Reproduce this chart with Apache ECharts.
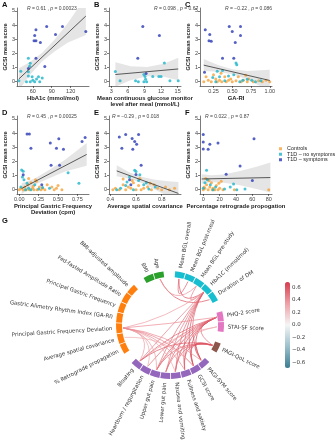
<!DOCTYPE html>
<html>
<head>
<meta charset="utf-8">
<script src="https://cdn.jsdelivr.net/npm/echarts@6/dist/echarts.min.js"></script>
<style>
  html, body { margin: 0; padding: 0; background: #fff; }
  #chart { width: 336px; height: 440px; }
</style>
</head>
<body>
<div id="chart"></div>
<script>
// ---------- scatter panels A-F (GCSI mean score vs GA / glycaemic metrics) ----------
const yTicks = [0, 1, 2, 3, 4, 5];

// A: HbA1c
const aXTicks = [60, 90, 120];
const aCtl = [];
const aNoSym = [[53, 1.65], [56, 1.3], [55, 1.1], [53, 0.7], [41, 0.74], [53, 0.4], [59, 0.35], [69, 0.35], [75, 0.26], [60, 0.1], [50, 0], [56, 0], [63, 0], [71, 0], [38, 0.07], [66, 0.2]];
const aSym = [[82, 3.89], [107, 3.89], [96, 3.33], [144, 3.54], [65, 3.66], [63, 3.26], [62, 2.89], [65, 2.89], [72, 2.77], [65, 1.65], [79, 1.07], [53, 0.93]];
const aFit = [[38, 0.2], [144, 4.63]];
const aBand = [[38, -0.6, 0.95], [55, 0.45, 1.37], [75, 1.45, 2.05], [95, 2.15, 3.0], [115, 2.75, 4.1], [144, 3.3, 6.0]];

// B: mean CGM level after meal
const bXTicks = [3, 6, 9, 12, 15];
const bCtl = [];
const bNoSym = [[3.75, 0.72], [4.6, 0.07], [7.4, 0.07], [7.9, 0], [8.9, 0.51], [9.1, 0.37], [9.2, 0.18], [8.9, 0], [9.4, 0], [10.5, 0.37], [11.6, 0.37], [12, 0.37], [12.6, 1.33], [13.6, 0.07], [15.1, 0.07]];
const bSym = [[8.7, 3.89], [11.7, 3.26], [7.8, 1.65], [9.3, 0.58]];
const bFit = [[3.75, 0.51], [15.1, 0.9]];
const bBand = [[3.75, -0.35, 1.37], [6.5, 0.1, 1.1], [9.5, 0.38, 1.04], [12.5, 0.35, 1.27], [15.1, 0.1, 1.7]];

// C: GA-RI
const cXTicks = [0.25, 0.5, 0.75, 1];
const cCtl = [[0.12, 0], [0.15, 0.35], [0.18, 0.1], [0.22, 0], [0.25, 0.5], [0.28, 0.2], [0.3, 0], [0.33, 0.1], [0.36, 0], [0.4, 0.35], [0.42, 0], [0.45, 0.1], [0.48, 0.2], [0.5, 0], [0.55, 0.07], [0.58, 0.35], [0.62, 0], [0.65, 0.1], [0.7, 0], [0.72, 0.2], [0.78, 0], [0.85, 0.07], [0.9, 0], [0.95, 0.1], [1.0, 0], [0.68, 0.45], [0.35, 0.6]];
const cNoSym = [[0.55, 1.33], [0.56, 1.2], [0.37, 0.8], [0.3, 0.74], [0.52, 0.49], [0.45, 0.4], [0.64, 0.1], [0.76, 0.1], [0.81, 0], [0.33, 0.35], [0.24, 0.3], [0.6, 0], [0.4, 0.07], [0.7, 0.18], [0.28, 0], [0.88, 0.07]];
const cSym = [[0.14, 3.66], [0.2, 3.33], [0.19, 2.89], [0.22, 2.85], [0.13, 0.67], [0.37, 1.65], [0.46, 3.89], [0.61, 3.89], [0.5, 3.54], [0.61, 3.26], [0.54, 2.77], [0.52, 1.65]];
const cFit = [[0.12, 1.17], [1.0, 0.09]];
const cBand = [[0.12, 0.75, 1.6], [0.3, 0.7, 1.2], [0.5, 0.52, 0.88], [0.7, 0.16, 0.76], [1.0, -0.65, 0.84]];

// D: principal gastric frequency deviation
const dXTicks = [0, 0.25, 0.5, 0.75];
const dCtl = [[0, 0], [0.02, 0.1], [0.05, 0], [0.07, 0.2], [0.09, 0], [0.11, 0.35], [0.13, 0], [0.15, 0.5], [0.17, 0.1], [0.19, 0], [0.21, 0.7], [0.23, 0], [0.26, 0.2], [0.28, 0], [0.3, 0.1], [0.33, 0], [0.36, 0.35], [0.12, 0.8], [0.22, 0.6], [0.45, 0], [0.48, 0.1], [0.42, 0.2], [0.5, 0.3], [0.55, 0], [0.18, 0.25]];
const dNoSym = [[0.03, 1.4], [0.05, 1.3], [0.04, 0.9], [0.63, 1.2], [0.77, 0.45], [0.39, 0.1], [0.06, 0.7], [0.1, 0.45], [0.02, 0.2], [0.15, 0], [0.12, 0.1], [0.2, 0.35], [0.08, 0], [0.25, 0.05], [0.3, 0.15]];
const dSym = [[0.1, 3.93], [0.13, 3.93], [0.15, 2.93], [0.4, 3.3], [0.51, 3.6], [0.48, 2.93], [0.57, 2.86], [0.81, 3.4], [0.85, 3.68], [0.41, 1.72], [0.52, 1.72], [0.05, 1.05], [0.29, 0.35]];
const dFit = [[0.03, 0.09], [0.87, 2.49]];
const dBand = [[0.03, -0.3, 0.45], [0.2, 0.35, 0.8], [0.4, 0.85, 1.45], [0.6, 1.3, 2.15], [0.87, 1.7, 3.3]];

// E: average spatial covariance
const eXTicks = [0.4, 0.6, 0.8];
const eCtl = [[0.42, 0], [0.44, 0.1], [0.47, 0], [0.5, 0.35], [0.52, 0], [0.54, 0.2], [0.56, 0.1], [0.58, 0.5], [0.6, 0], [0.62, 0.3], [0.64, 0], [0.66, 0.1], [0.69, 0.2], [0.72, 0], [0.74, 0.35], [0.77, 0.1], [0.8, 0], [0.83, 0.2], [0.86, 0], [0.9, 0.1], [0.5, 0.75], [0.57, 0.65], [0.63, 0.8], [0.71, 0.45]];
const eNoSym = [[0.59, 1.38], [0.6, 1.28], [0.63, 1.05], [0.55, 0.9], [0.62, 0.65], [0.66, 0.35], [0.52, 0.3], [0.48, 0.1], [0.7, 0.05], [0.58, 0], [0.75, 0.2], [0.68, 0.5], [0.45, 0], [0.53, 0.55]];
const eSym = [[0.47, 3.72], [0.52, 3.9], [0.62, 3.9], [0.57, 3.62], [0.49, 2.93], [0.575, 2.86], [0.605, 3.2], [0.59, 3.4], [0.64, 1.72], [0.6, 1.07], [0.55, 0.7], [0.56, 0.35]];
const eFit = [[0.45, 1.33], [0.93, -0.26]];
const eBand = [[0.45, 0.95, 1.72], [0.55, 0.78, 1.22], [0.65, 0.45, 0.9], [0.75, 0.0, 0.7], [0.85, -0.45, 0.6], [0.93, -0.85, 0.55]];

// F: percentage retrograde propagation
const fXTicks = [0, 20, 40, 60, 80];
const fCtl = [[38, 0], [80, 0], [0, 0], [2, 0.1], [4, 0.35], [6, 0], [8, 0.2], [10, 0.5], [12, 0.1], [14, 0], [16, 0.3], [18, 0], [20, 0.1], [22, 0.6], [24, 0], [3, 0.8], [7, 0.65], [1, 0.2], [11, 0], [19, 0.45]];
const fNoSym = [[4, 1.37], [8.6, 0.35], [37, 0.4], [33, 0.2], [26, 0.05], [51, 0.05], [41, 0], [2, 0.5], [0, 0.1], [12, 0], [5, 0.7], [15, 0.2]];
const fSym = [[0, 3.9], [0, 3.37], [0, 2.88], [6, 2.85], [8, 3.2], [18, 3.3], [62, 3.6], [45, 1.67], [28, 1.1], [60, 0.65]];
const fFit = [[-2, 0.76], [82, 0.86]];
const fBand = [[-2, 0.42, 1.1], [10, 0.52, 1.02], [25, 0.5, 1.08], [45, 0.32, 1.32], [65, 0.05, 1.63], [82, -0.2, 1.92]];

const statR = ['0.61', '0.098', '−0.22', '0.45', '−0.29', '0.022'];
const statP = ['0.00023', '0.67', '0.086', '0.00025', '0.018', '0.87'];

const xNames = ['HbA1c (mmol/mol)', 'Mean continuous glucose monitor\nlevel after meal (mmol/L)', 'GA-RI',
  'Principal Gastric Frequency\nDeviation (cpm)', 'Average spatial covariance', 'Percentage retrograde propogation'];
const groupNames = ['Controls', 'T1D – no symptoms', 'T1D – symptoms'];

// ---------- chord diagram G ----------
const psychNodes = ['STAI-SF score', 'PHQ-2 score'];
const diabetesNodes = ['Duration of DM', 'HbA1C (mmol/mol)', 'Mean BGL pre-study', 'Mean BGL post-meal', 'Mean BGL overall'];
const demoNodes = ['Age', 'BMI'];
const gaNodes = ['BMI-adjusted amplitude', 'Fed-fasted Amplitude Ratio', 'Principal Gastric Frequency',
  'Gastric Alimetry Rhythm Index (GA-RI)', 'Principal Gastric Frequency Deviation', 'Average spatial covariance', '% Retrograde propagation'];
const symptomNodes = ['Bloating', 'Heartburn / regurgitation', 'Upper gut pain', 'Lower gut pain',
  'Nausea and vomiting', 'Fullness and satiety', 'GCSI score', 'PAGI-SYM score'];
const qolNodes = ['PAGI-QoL score'];

// [node, node, correlation]
const links = [
  ['Age', 'Duration of DM', 0.6],
  ['Age', 'Mean BGL pre-study', 0.38],
  ['Mean BGL overall', 'Mean BGL post-meal', 0.55],
  ['Mean BGL overall', 'HbA1C (mmol/mol)', 0.6],
  ['Mean BGL pre-study', 'HbA1C (mmol/mol)', 0.45],
  ['HbA1C (mmol/mol)', 'Bloating', 0.45],
  ['HbA1C (mmol/mol)', 'Upper gut pain', 0.5],
  ['HbA1C (mmol/mol)', 'Lower gut pain', 0.45],
  ['HbA1C (mmol/mol)', 'Nausea and vomiting', 0.5],
  ['HbA1C (mmol/mol)', 'Fullness and satiety', 0.55],
  ['HbA1C (mmol/mol)', 'GCSI score', 0.6],
  ['HbA1C (mmol/mol)', 'PAGI-SYM score', 0.55],
  ['HbA1C (mmol/mol)', 'Principal Gastric Frequency Deviation', 0.35],
  ['PHQ-2 score', 'Bloating', 0.55],
  ['PHQ-2 score', 'Heartburn / regurgitation', 0.5],
  ['PHQ-2 score', 'Upper gut pain', 0.6],
  ['PHQ-2 score', 'Lower gut pain', 0.55],
  ['PHQ-2 score', 'Nausea and vomiting', 0.6],
  ['PHQ-2 score', 'Fullness and satiety', 0.6],
  ['PHQ-2 score', 'GCSI score', 0.65],
  ['PHQ-2 score', 'PAGI-SYM score', 0.65],
  ['PHQ-2 score', 'Principal Gastric Frequency Deviation', 0.4],
  ['STAI-SF score', 'Bloating', 0.3],
  ['STAI-SF score', 'Upper gut pain', 0.3],
  ['PAGI-QoL score', 'Bloating', 0.6],
  ['PAGI-QoL score', 'Upper gut pain', 0.55],
  ['PAGI-QoL score', 'Lower gut pain', 0.5],
  ['PAGI-QoL score', 'Nausea and vomiting', 0.5],
  ['PAGI-QoL score', 'Fullness and satiety', 0.55],
  ['PAGI-QoL score', 'GCSI score', 0.6],
  ['PAGI-QoL score', 'PAGI-SYM score', 0.65],
  ['PAGI-QoL score', 'PHQ-2 score', 0.5],
  ['Principal Gastric Frequency Deviation', 'Bloating', 0.35],
  ['Principal Gastric Frequency Deviation', 'Heartburn / regurgitation', 0.3],
  ['Principal Gastric Frequency Deviation', 'Upper gut pain', 0.35],
  ['Principal Gastric Frequency Deviation', 'Nausea and vomiting', 0.3],
  ['Principal Gastric Frequency Deviation', 'Fullness and satiety', 0.4],
  ['Principal Gastric Frequency Deviation', 'GCSI score', 0.45],
  ['Principal Gastric Frequency Deviation', 'PAGI-SYM score', 0.4],
  ['Average spatial covariance', 'GCSI score', 0.3]
];
const cbTicks = [-0.6, -0.4, -0.2, 0, 0.2, 0.4, 0.6];

// ---------- layout / style ----------
const C_CTL = '#f6a339', C_NOSYM = '#1db4ca', C_SYM = '#2b3ab5';
const FONT = 'Liberation Sans';
const gridLeft = [17, 109, 200];
const gridTop = [8, 116];
const GW = 72, GH = 78;
const xMin = [35, 2.6, 0.07, -0.03, 0.39, -4];
const xMax = [149, 15.6, 1.03, 0.9, 0.95, 84];
const xDec = [0, 0, 2, 2, 1, 0];
const statOffset = [10, 45, 25, 10, 3, 5];

const panelData = [
  [aCtl, aNoSym, aSym, aFit, aBand, aXTicks],
  [bCtl, bNoSym, bSym, bFit, bBand, bXTicks],
  [cCtl, cNoSym, cSym, cFit, cBand, cXTicks],
  [dCtl, dNoSym, dSym, dFit, dBand, dXTicks],
  [eCtl, eNoSym, eSym, eFit, eBand, eXTicks],
  [fCtl, fNoSym, fSym, fFit, fBand, fXTicks]
];

const grids = [], xAxes = [], yAxes = [], series = [], graphics = [];
const axisLine = { onZero: false, lineStyle: { color: '#222', width: 0.6 } };
const tickStyle = { color: '#222', width: 0.6 };

panelData.forEach(function (p, i) {
  const [ctl, noSym, sym, fit, band, xt] = p;
  const col = i % 3, row = Math.floor(i / 3);
  const left = gridLeft[col], top = gridTop[row];
  grids.push({ left: left, top: top, width: GW, height: GH, outerBoundsMode: 'none' });
  xAxes.push({
    gridIndex: i, type: 'value', min: xMin[i], max: xMax[i],
    axisLine: axisLine,
    axisTick: { length: 2, lineStyle: tickStyle, customValues: xt },
    axisLabel: { customValues: xt, fontSize: 5.5, color: '#444', margin: 2, fontFamily: FONT,
      formatter: function (v) { return v.toFixed(xDec[i]); } },
    splitLine: { show: false },
    name: xNames[i], nameLocation: 'middle', nameGap: 9,
    nameTextStyle: { fontSize: 5.9, fontWeight: 'bold', color: '#222', fontFamily: FONT, lineHeight: 6.3 }
  });
  yAxes.push({
    gridIndex: i, type: 'value', min: -0.3, max: 5.2,
    axisLine: axisLine,
    axisTick: { length: 2, lineStyle: tickStyle, customValues: yTicks },
    axisLabel: { customValues: yTicks, fontSize: 5.5, color: '#444', margin: 2, fontFamily: FONT },
    splitLine: { show: false },
    name: 'GCSI mean score', nameLocation: 'middle', nameGap: 7,
    nameTextStyle: { fontSize: 5.7, fontWeight: 'bold', color: '#222', fontFamily: FONT }
  });
  series.push({
    type: 'custom', xAxisIndex: i, yAxisIndex: i, clip: true, silent: true, z: 1,
    data: [band[0]],
    renderItem: function (params, api) {
      const upper = band.map(function (b) { return api.coord([b[0], b[2]]); });
      const lower = band.map(function (b) { return api.coord([b[0], b[1]]); }).reverse();
      return { type: 'polygon', shape: { points: upper.concat(lower) }, style: { fill: '#bdbdbd', opacity: 0.4 } };
    }
  });
  [[ctl, C_CTL], [noSym, C_NOSYM], [sym, C_SYM]].forEach(function (g, k) {
    series.push({
      type: 'scatter', name: groupNames[k], xAxisIndex: i, yAxisIndex: i, data: g[0],
      symbol: 'circle', symbolSize: 3, itemStyle: { color: g[1] }, z: 2, silent: true
    });
  });
  series.push({
    type: 'line', xAxisIndex: i, yAxisIndex: i, data: fit, showSymbol: false, silent: true, z: 3,
    lineStyle: { color: '#333', width: 0.8 }
  });
  graphics.push({
    type: 'text', left: left - 15, top: top - 7,
    style: { text: 'ABCDEF'[i], fontSize: 7.5, fontWeight: 'bold', fill: '#111', fontFamily: FONT }
  });
  graphics.push({
    type: 'text', left: left + statOffset[i], top: top - 2,
    style: {
      text: '{i|R} = ' + statR[i] + ' , {i|p} = ' + statP[i], fontSize: 5, fill: '#444', fontFamily: FONT,
      rich: { i: { fontStyle: 'italic', fontSize: 5, fill: '#444', fontFamily: FONT } }
    }
  });
});

// ---------- chord ----------
const groups = [psychNodes, diabetesNodes, demoNodes, gaNodes, symptomNodes, qolNodes];
const groupColors = ['#e377c2', '#17becf', '#2ca02c', '#ff7f0e', '#9467bd', '#8c564b'];
const slots = [], slotGroup = [];
groups.forEach(function (g, gi) {
  g.forEach(function (n) { slots.push(n); slotGroup.push(gi); });
  slots.push('gap' + gi); slotGroup.push(-1);
});
const R_IN = 0.89, R_LINK = 0.87, R_LABEL = 1.07;
const nodeIndex = {};
slots.forEach(function (n, i) { nodeIndex[n] = i; });

const baseBar = slots.map(function (n, i) { return slotGroup[i] < 0 ? '-' : R_IN; });
const ringBar = slots.map(function (n, i) {
  return slotGroup[i] < 0 ? '-' : { value: 1 - R_IN, itemStyle: { color: groupColors[slotGroup[i]] } };
});
const labelData = [];
slots.forEach(function (n, i) { if (slotGroup[i] >= 0) labelData.push([R_LABEL, i]); });
const linkData = links.map(function (l) { return [nodeIndex[l[0]], nodeIndex[l[1]], l[2]]; });

const chordStart = series.length;
series.push({
  type: 'custom', coordinateSystem: 'polar', polarIndex: 0, data: linkData, silent: true, z: 1,
  renderItem: function (params, api) {
    const s = api.value(0), t = api.value(1);
    const p1 = api.coord([R_LINK, s]), p2 = api.coord([R_LINK, t]);
    const c0 = api.coord([0, s]);
    const k = 0.4;
    const m = [(p1[0] + p2[0]) / 2, (p1[1] + p2[1]) / 2];
    const cp = [c0[0] + (m[0] - c0[0]) * k, c0[1] + (m[1] - c0[1]) * k];
    return {
      type: 'bezierCurve',
      shape: { x1: p1[0], y1: p1[1], x2: p2[0], y2: p2[1], cpx1: cp[0], cpy1: cp[1] },
      style: { stroke: api.visual('color'), fill: null, lineWidth: 0.8, opacity: 0.9 }
    };
  }
});
series.push({
  type: 'bar', coordinateSystem: 'polar', polarIndex: 0, stack: 'ring', data: baseBar,
  itemStyle: { color: 'rgba(0,0,0,0)' }, silent: true, barCategoryGap: '8%', z: 0
});
series.push({
  type: 'bar', coordinateSystem: 'polar', polarIndex: 0, stack: 'ring', data: ringBar,
  silent: true, barCategoryGap: '8%', z: 2
});
series.push({
  type: 'custom', coordinateSystem: 'polar', polarIndex: 0, data: labelData, silent: true, z: 3,
  renderItem: function (params, api) {
    const idx = api.value(1);
    const p = api.coord([R_LABEL, idx]);
    const c = api.coord([0, idx]);
    const th = Math.atan2(c[1] - p[1], p[0] - c[0]);
    const right = Math.cos(th) >= 0;
    return {
      type: 'text', x: p[0], y: p[1], rotation: right ? th : th - Math.PI,
      style: { text: slots[idx], align: right ? 'left' : 'right', verticalAlign: 'middle',
        fontSize: 5.4, fill: '#333', fontFamily: 'DejaVu Sans' }
    };
  }
});

// colorbar tick axis
grids.push({ left: 285, top: 282, width: 5, height: 86, outerBoundsMode: 'none' });
xAxes.push({ gridIndex: 6, type: 'value', show: false, min: 0, max: 1 });
yAxes.push({
  gridIndex: 6, type: 'value', min: -0.69, max: 0.69, position: 'right',
  axisLine: { show: false },
  axisTick: { show: true, length: 2, customValues: cbTicks, lineStyle: { color: '#333', width: 0.6 } },
  axisLabel: { customValues: cbTicks, fontSize: 5.5, color: '#333', margin: 2, fontFamily: 'DejaVu Sans',
    formatter: function (v) { return (v < 0 ? '−' : '') + Math.abs(v).toFixed(1); } },
  splitLine: { show: false }
});

graphics.push({
  type: 'text', left: 2, top: 217,
  style: { text: 'G', fontSize: 7.5, fontWeight: 'bold', fill: '#111', fontFamily: FONT }
});

const chart = echarts.init(document.getElementById('chart'), null, { renderer: 'canvas' });
chart.setOption({
  animation: false,
  backgroundColor: '#fff',
  grid: grids,
  xAxis: xAxes,
  yAxis: yAxes,
  polar: { center: [170, 325], radius: 54 },
  angleAxis: { type: 'category', data: slots, startAngle: 352, clockwise: false, show: false, boundaryGap: true },
  radiusAxis: { type: 'value', min: 0, max: 1, show: false },
  legend: {
    data: groupNames, orient: 'vertical', left: 279, top: 146, itemWidth: 3, itemHeight: 3, itemGap: 0,
    icon: 'rect', padding: 0,
    textStyle: { fontSize: 5.4, lineHeight: 5.5, color: '#222', fontFamily: FONT }
  },
  visualMap: {
    type: 'continuous', min: -0.69, max: 0.69, dimension: 2, seriesIndex: chordStart,
    left: 285, top: 282, itemWidth: 5, itemHeight: 86, calculable: false, padding: 0,
    inRange: { color: ['#3b7c92', '#9cc0cc', '#f5f5f5', '#eea0a6', '#d63c4e'] }
  },
  graphic: graphics,
  series: series
});
</script>
</body>
</html>
